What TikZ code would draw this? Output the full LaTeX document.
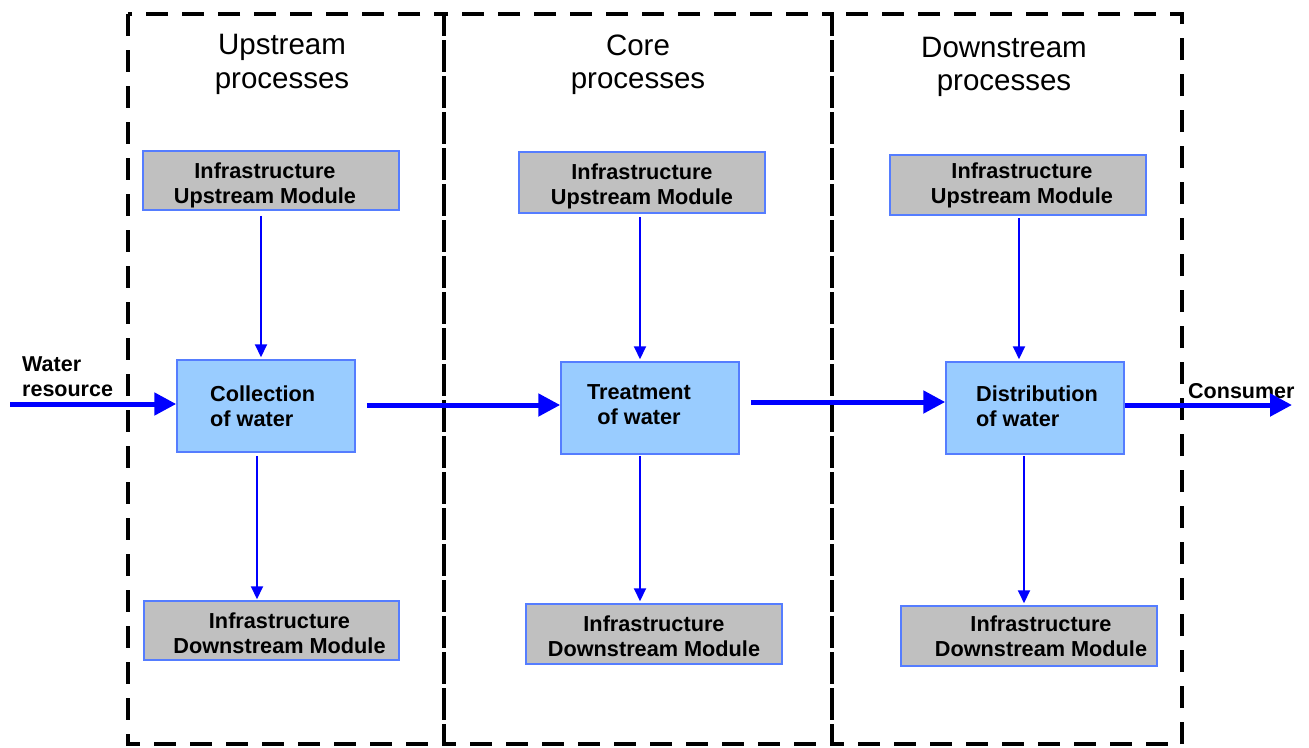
\documentclass[tikz,border=0pt]{standalone}
\usepackage{fontspec}
\setmainfont{Liberation Sans}
\usetikzlibrary{arrows.meta}
\definecolor{boxblue}{RGB}{153,204,255}
\definecolor{boxgray}{RGB}{192,192,192}
\definecolor{edgeblue}{RGB}{85,125,255}
\definecolor{arrowblue}{RGB}{0,0,255}
\tikzset{
  panel/.style={draw=black, line width=4.5pt, dash pattern=on 22pt off 14pt},
  graybox/.style={draw=edgeblue, fill=boxgray, line width=1.5pt, inner sep=0pt},
  bluebox/.style={draw=edgeblue, fill=boxblue, line width=1.5pt, inner sep=0pt,
    minimum width=178pt, minimum height=92pt},
  boxtext/.style={inner sep=0pt, align=center, font=\fontsize{21.7}{25}\selectfont\bfseries},
  title/.style={inner sep=0pt, align=center, font=\fontsize{29.5}{33.5}\selectfont},
  thinarrow/.style={draw=arrowblue, line width=2pt, -{Triangle[length=13pt,width=12pt]}},
  thickarrow/.style={draw=arrowblue, line width=5pt, -{Triangle[length=22pt,width=22pt]}},
  lbl/.style={inner sep=0pt, align=left, font=\fontsize{21.5}{25}\selectfont\bfseries}
}
\begin{document}
\begin{tikzpicture}[x=1pt,y=-1pt]
\useasboundingbox (0,0) rectangle (1309,747);
% panels
\draw[panel] (128,14) rectangle (444,744);
\draw[panel] (444,14) rectangle (832,744);
\draw[panel] (832,14) rectangle (1182,744);
% titles
\node[title] (t1) at (282,64.5) {Upstream\\processes};
\node[title] (t2) at (638,65) {Core\\processes};
\node[title] (t3) at (1004,67) {Downstream\\processes};
% upper gray boxes
\node[graybox, minimum width=256pt, minimum height=59pt] (up1) at (271,180.5) {};
\node[graybox, minimum width=246pt, minimum height=61pt] (up2) at (642,182.5) {};
\node[graybox, minimum width=256pt, minimum height=60pt] (up3) at (1018,185) {};
\node[boxtext] (up1T) at ([xshift=-6pt,yshift=-5pt]up1.center) {Infrastructure\\Upstream Module};
\node[boxtext] (up2T) at ([xshift=0pt,yshift=-4pt]up2.center) {Infrastructure\\Upstream Module};
\node[boxtext] (up3T) at ([xshift=4pt,yshift=0pt]up3.center) {Infrastructure\\Upstream Module};
% lower gray boxes
\node[graybox, minimum width=255pt, minimum height=59pt] (dn1) at (271.5,630.5) {};
\node[graybox, minimum width=256pt, minimum height=60pt] (dn2) at (654,634) {};
\node[graybox, minimum width=256pt, minimum height=60pt] (dn3) at (1029,636) {};
\node[boxtext] (dn1T) at ([xshift=8pt,yshift=-3pt]dn1.center) {Infrastructure\\Downstream Module};
\node[boxtext] (dn2T) at ([xshift=0pt,yshift=-2pt]dn2.center) {Infrastructure\\Downstream Module};
\node[boxtext] (dn3T) at ([xshift=12pt,yshift=0pt]dn3.center) {Infrastructure\\Downstream Module};
% blue boxes
\node[bluebox] (coll) at (266,406) {};
\node[bluebox] (treat) at (650,408) {};
\node[bluebox] (dist) at (1035,408) {};
\node[boxtext, align=left, anchor=north west] (collT) at (210,386) {Collection\\of water};
\node[boxtext, align=center, anchor=north] (treatT) at (639,384) {Treatment\\of water};
\node[boxtext, align=left, anchor=north west] (distT) at (976,386) {Distribution\\of water};
% labels
\node[lbl, anchor=north west] (water) at (22,357) {Water\\resource};
\node[lbl, anchor=north west] (cons) at (1188,383) {Consumer};
\coordinate (wstart) at (10,404);
\coordinate (cend) at (1292,405);
% thin vertical arrows
\draw[thinarrow, shorten <=5pt, shorten >=2pt] ([xshift=-10pt]up1.south) -- ([xshift=-5pt]coll.north);
\draw[thinarrow, shorten <=3pt, shorten >=1pt] ([xshift=-9pt]coll.south) -- ([xshift=-14.5pt]dn1.north);
\draw[thinarrow, shorten <=3pt, shorten >=2pt] ([xshift=-2pt]up2.south) -- ([xshift=-10pt]treat.north);
\draw[thinarrow, shorten <=1pt, shorten >=2pt] ([xshift=-10pt]treat.south) -- ([xshift=-14pt]dn2.north);
\draw[thinarrow, shorten <=2pt, shorten >=2pt] ([xshift=1pt]up3.south) -- ([xshift=-16pt]dist.north);
\draw[thinarrow, shorten <=1pt, shorten >=2pt] ([xshift=-11pt]dist.south) -- ([xshift=-5pt]dn3.north);
% thick horizontal arrows
\draw[thickarrow] (wstart) -- (wstart -| coll.west);
\draw[thickarrow, shorten <=11pt] ([yshift=1pt]coll.east) -- ([yshift=1pt]coll.east -| treat.west);
\draw[thickarrow, shorten <=11pt] ([yshift=6pt]treat.east) -- ([yshift=6pt]treat.east -| dist.west);
\draw[thickarrow] (dist.east |- cend) -- (cend);
\end{tikzpicture}
\end{document}
